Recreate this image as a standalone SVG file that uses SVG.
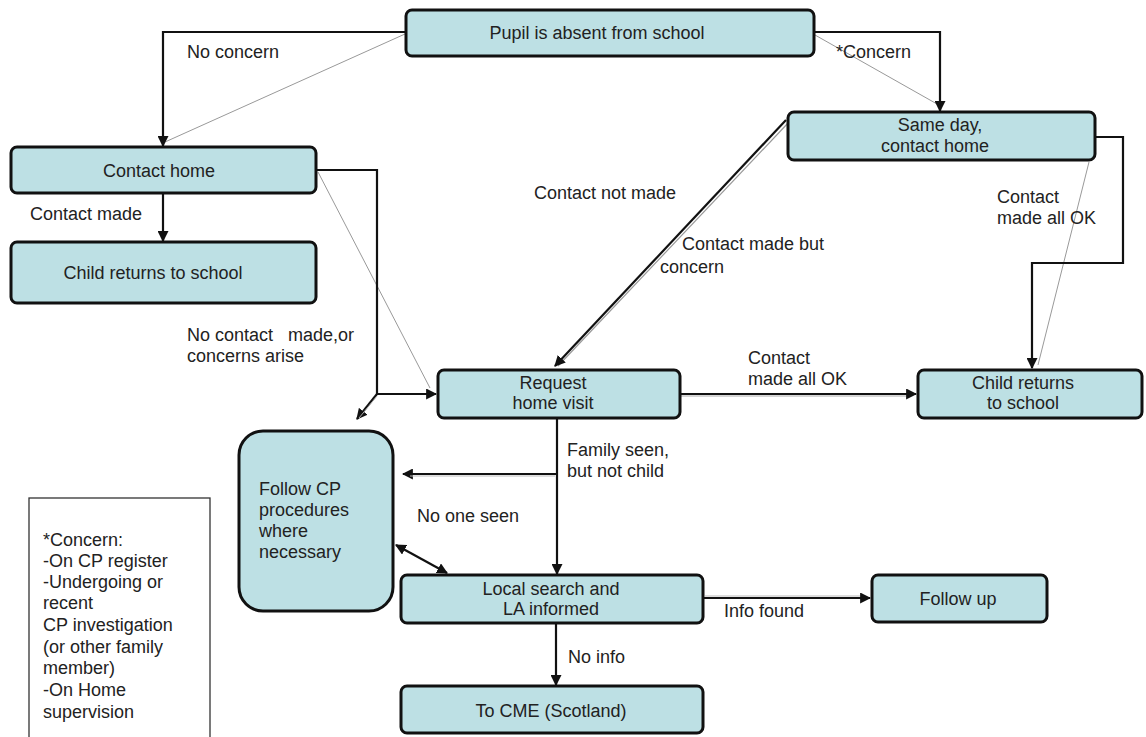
<svg xmlns="http://www.w3.org/2000/svg" width="1146" height="737" viewBox="0 0 1146 737">
  <style>
    .box { fill: #bde0e4; stroke: #111; stroke-width: 3; }
    .shadow { fill: #111; }
    .t { font-family: "Liberation Sans", Arial, sans-serif; font-size: 18px; fill: #222; }
    .c { text-anchor: middle; }
    .wire { fill: none; stroke: #111; stroke-width: 2.2; }
    .ghost { fill: none; stroke: #999; stroke-width: 1; }
    .legend { fill: #fff; stroke: #333; stroke-width: 1.3; }
  </style>
  <defs>
    <marker id="arr" viewBox="0 0 10 10" refX="9" refY="5" markerWidth="5" markerHeight="5" orient="auto" markerUnits="strokeWidth">
      <path d="M0,0 L10,5 L0,10 z" fill="#111"/>
    </marker>
    <marker id="arrBack" viewBox="0 0 10 10" refX="1" refY="5" markerWidth="5" markerHeight="5" orient="auto" markerUnits="strokeWidth">
      <path d="M10,0 L0,5 L10,10 z" fill="#111"/>
    </marker>
  </defs>

  <!-- connectors -->
  <g id="connectors">
    <!-- absent -> contact home (no concern) -->
    <line class="ghost" x1="405" y1="34" x2="165" y2="142"/>
    <polyline class="wire" points="405,32 163,32 163,146" marker-end="url(#arr)"/>
    <!-- absent -> same day (concern) -->
    <line class="ghost" x1="815" y1="35" x2="937" y2="104"/>
    <polyline class="wire" points="813,32 940,32 940,111" marker-end="url(#arr)"/>
    <!-- contact home -> child returns -->
    <line class="wire" x1="163" y1="193" x2="163" y2="241" marker-end="url(#arr)"/>
    <!-- contact home -> request home visit -->
    <line class="ghost" x1="318" y1="172" x2="430" y2="388"/>
    <polyline class="wire" points="316,170 377,170 377,394 436,394" marker-end="url(#arr)"/>
    <line class="wire" x1="377" y1="394" x2="357" y2="419" marker-end="url(#arr)"/>
    <line x1="377" y1="396" x2="359" y2="418" stroke="#aaa" stroke-width="1"/>
    <!-- same day -> request home visit -->
    <line x1="789" y1="122" x2="558" y2="366" stroke="#999" stroke-width="1.2"/>
    <line class="wire" x1="786" y1="120" x2="555" y2="366" marker-end="url(#arr)"/>
    <!-- same day -> child returns (right) -->
    <line class="ghost" x1="1089" y1="162" x2="1038" y2="365"/>
    <polyline class="wire" points="1095,137 1123,137 1123,263 1032,263 1032,368" marker-end="url(#arr)"/>
    <!-- request -> child returns (right) -->
    <line x1="680" y1="396" x2="910" y2="396" stroke="#aaa" stroke-width="1"/>
    <line class="wire" x1="680" y1="394" x2="916" y2="394" marker-end="url(#arr)"/>
    <!-- request -> local search -->
    <line class="wire" x1="557" y1="418" x2="557" y2="574" marker-end="url(#arr)"/>
    <!-- branch to CP procedures -->
    <line class="wire" x1="557" y1="474" x2="403" y2="474" marker-end="url(#arr)"/>
    <line x1="555" y1="476" x2="410" y2="476" stroke="#bbb" stroke-width="1"/>
    <!-- CP procedures <-> local search -->
    <line class="wire" x1="396" y1="545" x2="447" y2="573" marker-start="url(#arrBack)" marker-end="url(#arr)"/>
    <!-- local search -> follow up -->
    <line x1="705" y1="596" x2="865" y2="596" stroke="#bbb" stroke-width="1"/>
    <line class="wire" x1="703" y1="598" x2="870" y2="598" marker-end="url(#arr)"/>
    <!-- local search -> CME -->
    <line class="wire" x1="556" y1="623" x2="556" y2="685" marker-end="url(#arr)"/>
  </g>

  <!-- connector labels -->
  <g id="labels" class="t">
    <text x="187" y="58">No concern</text>
    <text x="836" y="58">*Concern</text>
    <text x="30" y="220">Contact made</text>
    <text x="534" y="199">Contact not made</text>
    <text x="682" y="250">Contact made but</text>
    <text x="660" y="273">concern</text>
    <text x="997" y="203">Contact</text>
    <text x="997" y="224">made all OK</text>
    <text x="187" y="341" xml:space="preserve">No contact   made,or</text>
    <text x="187" y="362">concerns arise</text>
    <text x="748" y="364">Contact</text>
    <text x="748" y="385">made all OK</text>
    <text x="567" y="456">Family seen,</text>
    <text x="567" y="477">but not child</text>
    <text x="417" y="522">No one seen</text>
    <text x="724" y="617">Info found</text>
    <text x="568" y="663">No info</text>
  </g>

  <!-- nodes -->
  <g id="pupil-absent">
    <rect class="box" x="406" y="10" width="408" height="46" rx="6"/>
    <text class="t c" x="597" y="39">Pupil is absent from school</text>
  </g>
  <g id="contact-home">
    <rect class="box" x="11" y="147" width="305" height="46" rx="6"/>
    <text class="t c" x="159" y="177">Contact home</text>
  </g>
  <g id="child-returns-left">
    <rect class="box" x="11" y="242" width="305" height="61" rx="6"/>
    <text class="t c" x="153" y="279">Child returns to school</text>
  </g>
  <g id="same-day">
    <rect class="box" x="788" y="112" width="307" height="48" rx="6"/>
    <text class="t c" x="940" y="131">Same day,</text>
    <text class="t c" x="935" y="152">contact home</text>
  </g>
  <g id="request-visit">
    <rect class="box" x="438" y="370" width="242" height="48" rx="6"/>
    <text class="t c" x="553" y="389">Request</text>
    <text class="t c" x="553" y="409">home visit</text>
  </g>
  <g id="child-returns-right">
    <rect class="box" x="918" y="370" width="224" height="48" rx="6"/>
    <text class="t c" x="1023" y="389">Child returns</text>
    <text class="t c" x="1023" y="409">to school</text>
  </g>
  <g id="cp-procedures">
    <rect class="box" x="239" y="431" width="154" height="180" rx="24"/>
    <text class="t" x="259" y="495">Follow CP</text>
    <text class="t" x="259" y="516">procedures</text>
    <text class="t" x="259" y="537">where</text>
    <text class="t" x="259" y="558">necessary</text>
  </g>
  <g id="local-search">
    <rect class="box" x="401" y="575" width="302" height="48" rx="6"/>
    <text class="t c" x="551" y="595">Local search and</text>
    <text class="t c" x="551" y="615">LA informed</text>
  </g>
  <g id="follow-up">
    <rect class="box" x="872" y="575" width="175" height="47" rx="6"/>
    <text class="t c" x="958" y="605">Follow up</text>
  </g>
  <g id="to-cme">
    <rect class="box" x="401" y="686" width="302" height="47" rx="6"/>
    <text class="t c" x="551" y="717">To CME (Scotland)</text>
  </g>

  <!-- key for the concern branch -->
  <g id="concern-key">
    <rect class="legend" x="29" y="498" width="181" height="250"/>
    <g class="t">
      <text x="43" y="546">*Concern:</text>
      <text x="43" y="567">-On CP register</text>
      <text x="43" y="588">-Undergoing or</text>
      <text x="43" y="609">recent</text>
      <text x="43" y="631">CP investigation</text>
      <text x="43" y="653">(or other family</text>
      <text x="43" y="674">member)</text>
      <text x="43" y="696">-On Home</text>
      <text x="43" y="718">supervision</text>
    </g>
  </g>
</svg>
